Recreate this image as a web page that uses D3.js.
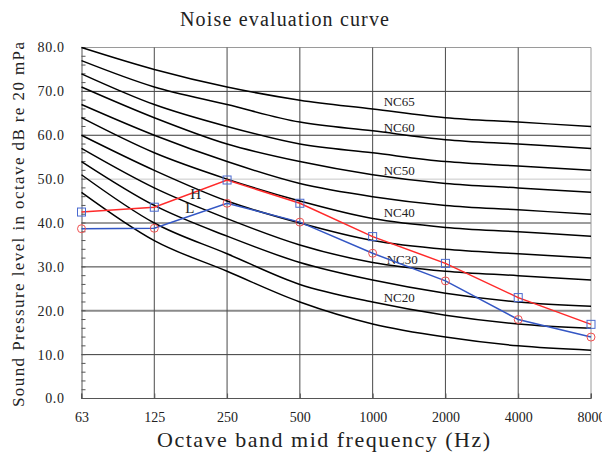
<!DOCTYPE html>
<html>
<head>
<meta charset="utf-8">
<script src="https://cdn.jsdelivr.net/npm/d3@7"></script>
<style>
  html, body { margin: 0; padding: 0; background: #fff; }
  svg { display: block; }
</style>
</head>
<body>
<svg id="chart" width="602" height="455"></svg>
<script>
// ---- data ----
const frequencies = ["63", "125", "250", "500", "1000", "2000", "4000", "8000"];
const yTicks = [0, 10, 20, 30, 40, 50, 60, 70, 80];
const ncNames = ["NC15", "NC20", "NC25", "NC30", "NC35", "NC40", "NC45", "NC50", "NC55", "NC60", "NC65"];
const nc15 = [47, 36, 29, 22, 17, 14, 12, 11];
const nc20 = [51, 40, 33, 26, 22, 19, 17, 16];
const nc25 = [54, 44, 37, 31, 27, 24, 22, 21];
const nc30 = [57, 48, 41, 35, 31, 29, 28, 27];
const nc35 = [60, 52, 45, 40, 36, 34, 33, 32];
const nc40 = [64, 56, 50, 45, 41, 39, 38, 37];
const nc45 = [67, 60, 54, 49, 46, 44, 43, 42];
const nc50 = [71, 64, 58, 54, 51, 49, 48, 47];
const nc55 = [74, 67, 62, 58, 56, 54, 53, 52];
const nc60 = [77, 71, 67, 63, 61, 59, 58, 57];
const nc65 = [80, 75, 71, 68, 66, 64, 63, 62];
const seriesH = [42.5, 43.6, 49.8, 44.5, 36.9, 30.8, 23.0, 16.9];
const seriesL = [38.7, 38.8, 44.5, 40.2, 33.1, 26.8, 18.0, 14.0];
// curve labels: [text, value at label]
const ncLabels = [["NC65", 67.6], ["NC60", 61.8], ["NC50", 52.0], ["NC40", 42.3], ["NC30", 31.7], ["NC20", 23.0]];

const ncCurves = [nc15, nc20, nc25, nc30, nc35, nc40, nc45, nc50, nc55, nc60, nc65];

// ---- layout ----
const svg = d3.select("#chart");
const mLeft = 81.5, mRight = 591, mTop = 47.5, mBottom = 398.5;
const x = d3.scalePoint().domain(frequencies).range([mLeft, mRight]);
const y = d3.scaleLinear().domain([0, 80]).range([mBottom, mTop]);
const serif = "'Liberation Serif', 'DejaVu Serif', serif";

// grid lines (horizontal)
svg.append("g").selectAll("line").data(yTicks.filter(d => d > 0)).join("line")
  .attr("x1", mLeft).attr("x2", mRight)
  .attr("y1", d => y(d)).attr("y2", d => y(d))
  .attr("stroke", d => d === 50 ? "#c8c8c8" : d === 20 ? "#8a8a8a" : d === 80 ? "#9a9a9a" : "#3a3a3a")
  .attr("stroke-width", d => d === 20 ? 2 : 1);

// grid lines (vertical)
svg.append("g").selectAll("line").data(frequencies.slice(1)).join("line")
  .attr("x1", d => x(d)).attr("x2", d => x(d))
  .attr("y1", mTop).attr("y2", mBottom)
  .attr("stroke", (d, i) => i === frequencies.length - 2 ? "#9a9a9a" : "#4a4a4a")
  .attr("stroke-width", 1);

// axes
const yAxis = d3.axisLeft(y).tickValues(yTicks).tickSize(0).tickPadding(17)
  .tickFormat(d => d3.format(".1f")(d));
const gy = svg.append("g").attr("transform", `translate(${mLeft},0)`).call(yAxis);
gy.select(".domain").attr("stroke", "#555");
gy.selectAll("text").attr("font-family", serif).attr("font-size", 14).attr("fill", "#222")
  .attr("letter-spacing", 0.6);

// y minor ticks (inward)
svg.append("g").selectAll("line").data(d3.range(0, 81, 2)).join("line")
  .attr("x1", mLeft).attr("x2", mLeft + 4)
  .attr("y1", d => y(d)).attr("y2", d => y(d))
  .attr("stroke", "#555");

const xAxis = d3.axisBottom(x).tickSize(-5).tickPadding(14);
const gx = svg.append("g").attr("transform", `translate(0,${mBottom})`).call(xAxis);
gx.select(".domain").attr("stroke", "#555").attr("d", `M${mLeft},-5V0H${mRight}V-5`);
gx.selectAll(".tick line").attr("stroke", "#555");
gx.selectAll("text").attr("font-family", serif).attr("font-size", 14).attr("fill", "#222");

// NC curves
const line = d3.line()
  .x((d, i) => x(frequencies[i]))
  .y(d => y(d))
  .curve(d3.curveCatmullRom.alpha(0));

svg.append("g").selectAll("path").data(ncCurves).join("path")
  .attr("d", line)
  .attr("fill", "none")
  .attr("stroke", "#000")
  .attr("stroke-width", 1.5);

// NC labels
svg.append("g").selectAll("text").data(ncLabels).join("text")
  .attr("x", d => x("1000") + (d[0] === "NC30" ? 14 : 11))
  .attr("y", d => y(d[1]))
  .attr("dy", "0.35em")
  .attr("font-family", serif)
  .attr("font-size", 13)
  .attr("fill", "#222")
  .text(d => d[0]);

// measured series
const straight = d3.line().x((d, i) => x(frequencies[i])).y(d => y(d));
svg.append("path").datum(seriesH).attr("d", straight)
  .attr("fill", "none").attr("stroke", "#ff2a2a").attr("stroke-width", 1.5);
svg.append("path").datum(seriesL).attr("d", straight)
  .attr("fill", "none").attr("stroke", "#3356c4").attr("stroke-width", 1.5);

svg.append("g").selectAll("rect").data(seriesH).join("rect")
  .attr("x", (d, i) => x(frequencies[i]) - 4)
  .attr("y", d => y(d) - 4)
  .attr("width", 8).attr("height", 8)
  .attr("fill", "none").attr("stroke", "#4a6ad0").attr("stroke-width", 1);

svg.append("g").selectAll("circle").data(seriesL).join("circle")
  .attr("cx", (d, i) => x(frequencies[i]))
  .attr("cy", d => y(d))
  .attr("r", 4)
  .attr("fill", "none").attr("stroke", "#f05050").attr("stroke-width", 1);

// H / L labels
const step = x.step();
svg.append("text").attr("x", x("125") + 0.57 * step).attr("y", y(46.6)).attr("dy", "0.35em")
  .attr("text-anchor", "middle").attr("font-family", serif).attr("font-size", 15).attr("fill", "#222").text("H");
svg.append("text").attr("x", x("125") + 0.49 * step).attr("y", y(43.5)).attr("dy", "0.35em")
  .attr("text-anchor", "middle").attr("font-family", serif).attr("font-size", 15).attr("fill", "#222").text("L");

// titles
svg.append("text").attr("x", 284.5).attr("y", 26)
  .attr("text-anchor", "middle").attr("font-family", serif).attr("font-size", 20)
  .attr("fill", "#222").attr("textLength", 209).attr("lengthAdjust", "spacing")
  .text("Noise evaluation curve");

svg.append("text").attr("x", 323.5).attr("y", 447)
  .attr("text-anchor", "middle").attr("font-family", serif).attr("font-size", 22)
  .attr("fill", "#222").attr("textLength", 333).attr("lengthAdjust", "spacing")
  .text("Octave band mid frequency (Hz)");

svg.append("text")
  .attr("transform", "translate(24,224.5) rotate(-90)")
  .attr("text-anchor", "middle").attr("font-family", serif).attr("font-size", 17)
  .attr("fill", "#222").attr("textLength", 365).attr("lengthAdjust", "spacing")
  .text("Sound Pressure level in octave dB re 20 mPa");
</script>
</body>
</html>
